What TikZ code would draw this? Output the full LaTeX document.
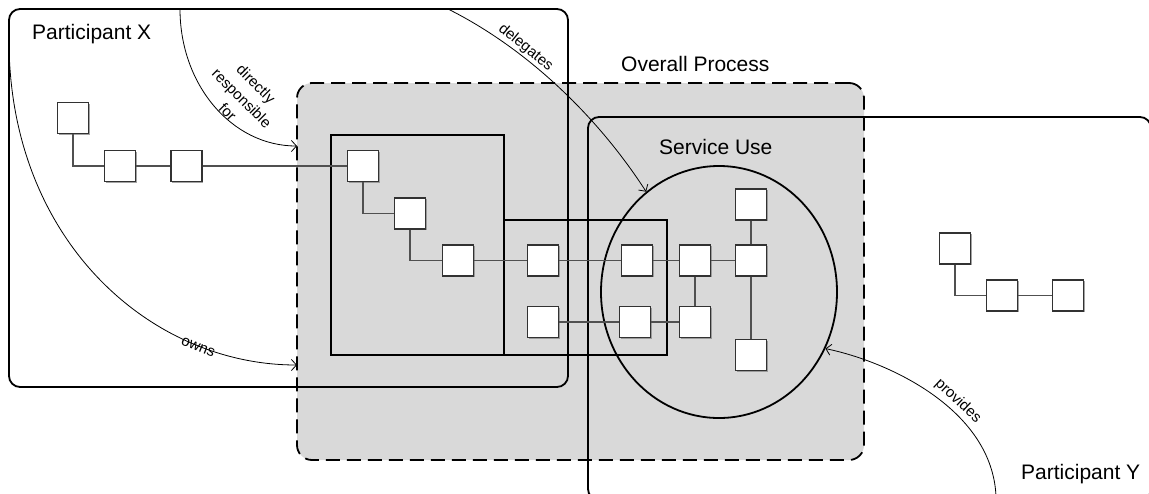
\documentclass[tikz,border=0pt]{standalone}
\usepackage{fontspec}
\setmainfont{Liberation Sans}
\usetikzlibrary{arrows.meta,shapes.geometric,shadows}
\definecolor{procgray}{RGB}{217,217,217}
\definecolor{boxedge}{RGB}{50,50,50}
\definecolor{wirecol}{RGB}{80,80,80}
\begin{document}
\begin{tikzpicture}[x=1pt,y=-1pt,
  area/.style={draw=black, line width=1.8pt, rounded corners=11pt, inner sep=0pt},
  procarea/.style={area, fill=procgray, dash pattern=on 14pt off 7pt, rounded corners=15pt},
  frame/.style={draw=black, line width=1.8pt, inner sep=0pt},
  blk/.style={draw=boxedge, fill=white, line width=1.1pt, minimum size=31pt, inner sep=0pt,
    drop shadow={shadow xshift=1pt, shadow yshift=-1pt, fill=black!45, opacity=0.8}},
  wire/.style={draw=wirecol, line width=1.3pt},
  relarrow/.style={draw=black, line width=0.8pt, -{Straight Barb[length=5pt,width=11pt]}},
  title/.style={font=\fontsize{21}{25}\selectfont, anchor=base west, inner sep=0pt},
  lbl/.style={font=\fontsize{15}{20}\selectfont, align=center, inner sep=0pt}]
\useasboundingbox (0,0) rectangle (1149,493);

% overall process: shaded dashed region
\node[procarea, minimum width=567pt, minimum height=377pt] (op) at (580.5,271.5) {};

% participants
\node[area, minimum width=559pt, minimum height=378pt] (px) at (288.5,198) {};
\node[area, minimum width=563pt, minimum height=383pt] (py) at (869.5,308.5) {};

% inner groupings
\node[frame, minimum width=173pt, minimum height=220pt] (ga) at (417.5,245) {};
\node[frame, minimum width=163pt, minimum height=135pt] (gb) at (585.5,287.5) {};
\node[ellipse, frame, minimum width=236pt, minimum height=252pt] (su) at (719,292) {};

% titles
\node[title] (tX) at (32,39) {Participant X};
\node[title] (tOP) at (621,71) {Overall Process};
\node[title] (tSU) at (659,154) {Service Use};
\node[title] (tY) at (1021,479) {Participant Y};

% activity boxes
\node[blk] (x1) at (73,118) {};
\node[blk] (x2) at (120,166) {};
\node[blk] (x3) at (186.5,166) {};
\node[blk] (a1) at (363,166) {};
\node[blk] (a2) at (410,213.5) {};
\node[blk] (a3) at (458,260.5) {};
\node[blk] (b1) at (543,260.5) {};
\node[blk] (b2) at (543,322) {};
\node[blk] (c1) at (637,260.5) {};
\node[blk] (c2) at (635,322) {};
\node[blk] (d1) at (695,260.5) {};
\node[blk] (d2) at (695,322) {};
\node[blk] (e1) at (751,204.5) {};
\node[blk] (e2) at (751,260.5) {};
\node[blk] (e3) at (751,355) {};
\node[blk] (y1) at (955,248.5) {};
\node[blk] (y2) at (1002,295.5) {};
\node[blk] (y3) at (1068,295.5) {};

% activity flow
\draw[wire] (x1) |- (x2);
\draw[wire] (x2) -- (x3);
\draw[wire] (x3) -- (a1);
\draw[wire] (a1) |- (a2);
\draw[wire] (a2) |- (a3);
\draw[wire] (a3) -- (b1) -- (c1) -- (d1) -- (e2);
\draw[wire] (e1) -- (e2) -- (e3);
\draw[wire] (d1) -- (d2);
\draw[wire] (b2) -- (c2) -- (d2);
\draw[wire] (y1) |- (y2);
\draw[wire] (y2) -- (y3);

% relations
\coordinate (drS) at (180,9);
\coordinate (drE) at (297,146);
\coordinate (owS) at (9,40);
\coordinate (owE) at (297,365);
\coordinate (dgS) at (448,9);
\coordinate (pvS) at (996,496);

\draw[relarrow] (drS) .. controls (180,85) and (232,146) .. (drE);
\draw[relarrow] (owS) .. controls (9,240) and (150,365) .. (owE);
\draw[relarrow] (dgS) .. controls (530,50) and (600,120) .. (su.126);
\draw[relarrow] (pvS) .. controls (992,410) and (890,362) .. (su.-28);

\node[lbl, rotate=-45] (lDR) at (242,98) {directly\\responsible\\for};
\node[lbl, rotate=-22] (lOW) at (198,347) {owns};
\node[lbl, rotate=-39] (lDG) at (525.5,47.5) {delegates};
\node[lbl, rotate=-43] (lPV) at (958,401) {provides};
\end{tikzpicture}
\end{document}
